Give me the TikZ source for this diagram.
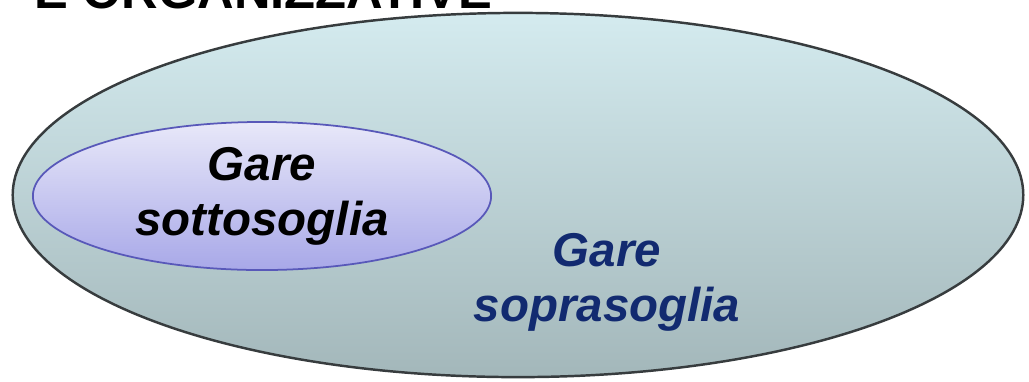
\documentclass[tikz,border=0pt]{standalone}
\usepackage{fontspec}
\setmainfont{Liberation Sans}
\usetikzlibrary{shapes.geometric}
\definecolor{bordo}{RGB}{55,60,62}
\definecolor{alto}{RGB}{212,235,239}
\definecolor{basso}{RGB}{163,183,186}
\definecolor{lilla}{RGB}{232,232,249}
\definecolor{viola}{RGB}{168,168,232}
\definecolor{bordoblu}{RGB}{88,88,185}
\definecolor{notte}{RGB}{18,42,112}
\begin{document}
\begin{tikzpicture}[
  x=0.01cm, y=-0.01cm,
  blob/.style={ellipse, draw, inner sep=0pt},
  lbl/.style={font=\fontsize{13.5}{15.6}\selectfont\bfseries\itshape, align=center}]
\useasboundingbox (0,0) rectangle (1029,381);
\node[anchor=base west, font=\fontsize{14.4}{16}\selectfont\bfseries] (titolo) at (22,8) {E ORGANIZZATIVE};
\node[blob, draw=bordo, line width=0.7pt, top color=alto, bottom color=basso,
      minimum width=10.1cm, minimum height=3.64cm] (sopra) at (518,195) {};
\node[blob, draw=bordoblu, line width=0.5pt, top color=lilla, bottom color=viola,
      minimum width=4.58cm, minimum height=1.48cm, lbl] (sotto) at (262,196) {Gare\\sottosoglia};
\node[lbl, text=notte] (soprat) at (607,282) {Gare\\soprasoglia};
\end{tikzpicture}
\end{document}
